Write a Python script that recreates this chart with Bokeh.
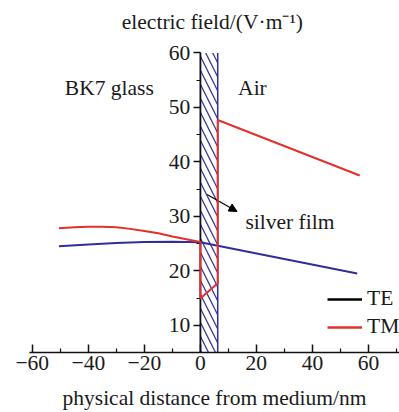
from bokeh.plotting import figure
from bokeh.models import Range1d, FixedTicker, Label, Arrow, NormalHead, Legend, LegendItem
from bokeh.embed import file_html
from bokeh.resources import INLINE

# ---- data ----
te_x = [-50.5, -40, -30, -20, -10, 0, 6.2, 56.0]
te_y = [24.5, 24.85, 25.1, 25.3, 25.35, 25.25, 24.6, 19.5]
tm_x = [-50.5, -45, -40, -35, -30, -25, -20, -15, -10, -5, 0, 0, 6.2, 6.2, 56.9]
tm_y = [27.8, 28.0, 28.1, 28.1, 28.0, 27.7, 27.3, 26.9, 26.3, 25.8, 25.3, 14.9, 17.7, 47.7, 37.5]
film_left = [0.0]
film_right = [6.2]
x_ticks = [-60, -40, -20, 0, 20, 40, 60]
x_minor = [-50, -30, -10, 10, 30, 50, 70]
y_ticks = [10, 20, 30, 40, 50, 60]
y_minor = [15, 25, 35, 45, 55]
y_min, y_max = 5, 60

FONT = "Liberation Serif"
FS = "21.5px"
RED = "#e2302a"
BLUE = "#2e2e9e"
HATCH = "#3a3a98"
TXT = "#1a1a1a"
NAN = float("nan")

p = figure(width=399, height=412, x_range=Range1d(-61, 71.1), y_range=Range1d(y_min, 68.9),
           output_backend="svg", toolbar_location=None,
           min_border_left=29, min_border_right=0, min_border_top=4, min_border_bottom=59)
p.grid.visible = False
p.outline_line_color = None

# silver film (hatched, open at top and bottom)
p.quad(left=film_left, right=film_right, bottom=[y_min], top=[y_max],
       fill_alpha=0, hatch_pattern="\\", hatch_color=HATCH, hatch_scale=14, hatch_weight=1.3,
       line_color=None)
p.segment(x0=film_left + film_right, y0=[y_min, y_min], x1=film_left + film_right,
          y1=[y_max, y_max], line_color=BLUE, line_width=1.5)

# curves
p.line(te_x, te_y, color=BLUE, line_width=2)
p.line(tm_x, tm_y, color=RED, line_width=2, level="overlay")

# legend (TE shown black in legend)
te_leg = p.line([NAN], [NAN], color="black", line_width=2.4)
tm_leg = p.line([NAN], [NAN], color=RED, line_width=2.4)
legend = Legend(items=[LegendItem(label="TE", renderers=[te_leg]),
                       LegendItem(label="TM", renderers=[tm_leg])],
                location=(298, 13), border_line_color=None, background_fill_alpha=0,
                padding=0, margin=0, spacing=3, glyph_width=35, glyph_height=20,
                label_height=20, label_standoff=5,
                label_text_font=FONT, label_text_font_size=FS, label_text_color=TXT)
p.add_layout(legend)

# axes
xa = p.xaxis[0]
xa.ticker = FixedTicker(ticks=x_ticks, minor_ticks=x_minor)
xa.major_label_overrides = {t: str(t).replace("-", "\u2212") for t in x_ticks}
xa.major_tick_in = 8
xa.major_tick_out = 0
xa.minor_tick_in = 4
xa.minor_tick_out = 0
xa.major_label_standoff = 3
xa.axis_label = "physical distance from medium/nm"
xa.axis_label_standoff = 13
xa.axis_label_text_font = FONT
xa.axis_label_text_font_size = FS
xa.axis_label_text_font_style = "normal"
xa.axis_label_text_color = TXT
xa.major_label_text_font = FONT
xa.major_label_text_font_size = FS
xa.major_label_text_color = TXT

ya = p.yaxis[0]
ya.fixed_location = 0
ya.bounds = (y_min, y_max)
ya.ticker = FixedTicker(ticks=y_ticks, minor_ticks=y_minor)
ya.major_tick_in = 0
ya.major_tick_out = 7
ya.minor_tick_in = 0
ya.minor_tick_out = 4
ya.major_label_standoff = 3
ya.major_label_text_font = FONT
ya.major_label_text_font_size = FS
ya.major_label_text_color = TXT

for ax in (xa, ya):
    ax.axis_line_width = 1.5
    ax.axis_line_color = "#111111"
    ax.major_tick_line_width = 1.5
    ax.major_tick_line_color = "#111111"
    ax.minor_tick_line_width = 1.2
    ax.minor_tick_line_color = "#111111"

# texts
p.add_layout(Label(x=4.3, y=65.6, text="electric field/(V\u00b7m\u207b\u00b9)", text_align="center",
                   text_baseline="middle", text_font=FONT, text_font_size=FS, text_color=TXT))
p.add_layout(Label(x=-32.5, y=53.6, text="BK7 glass", text_align="center",
                   text_baseline="middle", text_font=FONT, text_font_size=FS, text_color=TXT))
p.add_layout(Label(x=18.6, y=53.6, text="Air", text_align="center",
                   text_baseline="middle", text_font=FONT, text_font_size=FS, text_color=TXT))
p.add_layout(Label(x=16.1, y=29.0, text="silver film", text_align="left",
                   text_baseline="middle", text_font=FONT, text_font_size=FS, text_color=TXT))
p.add_layout(Arrow(end=NormalHead(size=8, fill_color="black", line_color="black"),
                   x_start=2.4, y_start=34.0, x_end=13.1, y_end=30.9,
                   line_color="black", line_width=1.2))

open("out.html", "w").write(file_html(p, INLINE))
